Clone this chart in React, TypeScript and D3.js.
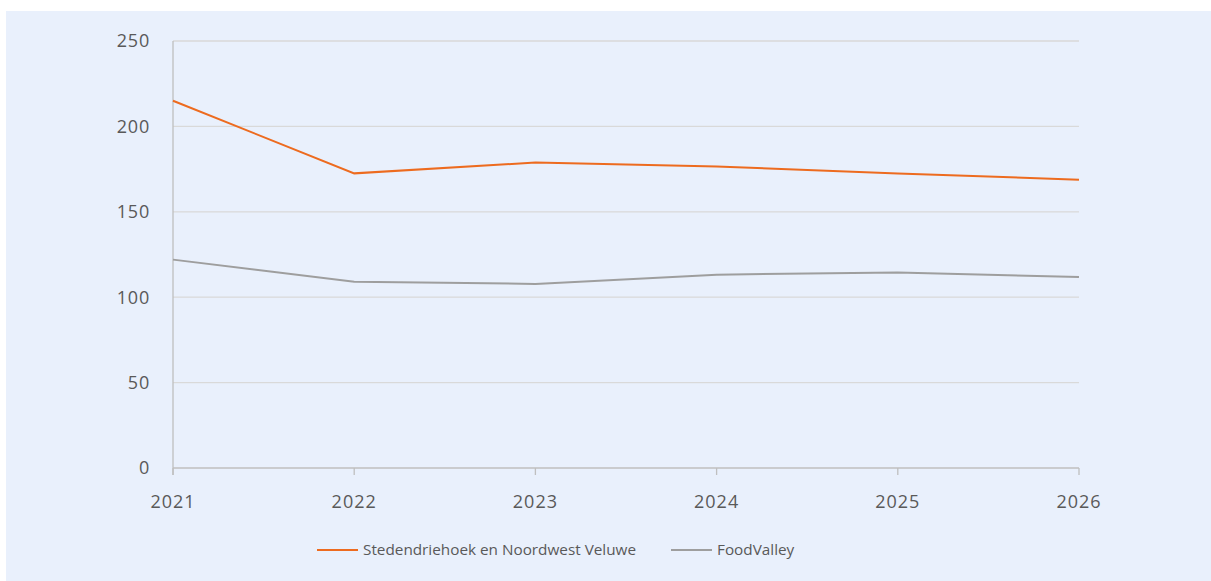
import React from 'react';
import * as d3 from 'd3';

const years = [2021, 2022, 2023, 2024, 2025, 2026];
const stedendriehoek = [215, 172.5, 178.8, 176.5, 172.4, 168.8];
const foodValley = [122, 109, 107.8, 113.2, 114.5, 111.8];
const yTicks = [0, 50, 100, 150, 200, 250];

const seriesNames = ['Stedendriehoek en Noordwest Veluwe', 'FoodValley'];
const seriesColors = ['#ED6B1F', '#9E9E9E'];

const W = 1211;
const H = 581;
const margin = { left: 173, right: 132, top: 41, bottom: 113 };
const font = "'Open Sans', 'Noto Sans', sans-serif";

export default function App() {
  const x = d3.scalePoint<number>()
    .domain(years)
    .range([margin.left, W - margin.right]);
  const y = d3.scaleLinear()
    .domain([0, 250])
    .range([H - margin.bottom, margin.top]);

  const line = d3.line<number>()
    .x((_, i) => x(years[i]) as number)
    .y(d => y(d));

  const all = [stedendriehoek, foodValley];
  const x0 = margin.left;
  const x1 = W - margin.right;
  const yBase = y(0);

  // legend positions
  const legend = [
    { lx: 317, tx: 363 },
    { lx: 671, tx: 717 },
  ];

  return (
    <div style={{ position: 'fixed', left: 0, top: 0, right: 0, bottom: 0, background: '#fff', overflow: 'hidden' }}>
      <div style={{ position: 'absolute', left: 6, top: 11, right: 0, bottom: 0, background: '#E9F0FC' }} />
      <svg width={W} height={H} style={{ position: 'absolute', left: 0, top: 0, display: 'block' }}>
        {yTicks.filter(t => t > 0).map(t => (
          <line key={t} x1={x0} x2={x1} y1={y(t)} y2={y(t)} stroke="#D9D9D9" strokeWidth={1.3} />
        ))}
        <line x1={x0} x2={x0} y1={y(250)} y2={yBase + 7} stroke="#BFBFBF" strokeWidth={1.3} />
        <line x1={x0} x2={x1} y1={yBase} y2={yBase} stroke="#BFBFBF" strokeWidth={1.3} />
        {years.map(yr => (
          <line key={yr} x1={x(yr)} x2={x(yr)} y1={yBase} y2={yBase + 7} stroke="#BFBFBF" strokeWidth={1.3} />
        ))}
        {yTicks.map(t => (
          <text key={t} x={150} y={y(t)} dy="0.35em" textAnchor="end" fontFamily={font} fontSize={18} letterSpacing={0.8} fill="#595959">
            {t}
          </text>
        ))}
        {years.map(yr => (
          <text key={yr} x={x(yr)} y={yBase + 34} dy="0.35em" textAnchor="middle" fontFamily={font} fontSize={18} letterSpacing={1} fill="#595959">
            {yr}
          </text>
        ))}
        {all.map((s, i) => (
          <path key={i} d={line(s) || ''} fill="none" stroke={seriesColors[i]} strokeWidth={2} />
        ))}
        {seriesNames.map((n, i) => (
          <g key={n}>
            <line x1={legend[i].lx} x2={legend[i].lx + 41} y1={550} y2={550} stroke={seriesColors[i]} strokeWidth={2} />
            <text x={legend[i].tx} y={550} dy="0.35em" fontFamily={font} fontSize={15.3} fill="#595959">{n}</text>
          </g>
        ))}
      </svg>
    </div>
  );
}
